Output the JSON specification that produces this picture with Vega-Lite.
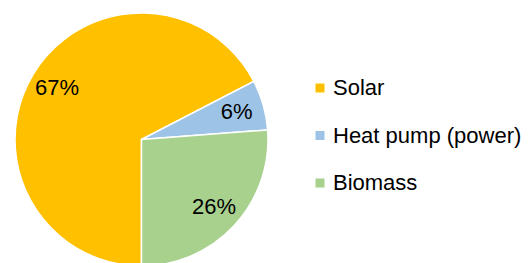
{
  "$schema": "https://vega.github.io/schema/vega-lite/v6.json",
  "width": 253,
  "height": 253,
  "padding": {"top": 10, "left": 12, "right": 0, "bottom": 0},
  "background": "white",
  "config": {"view": {"stroke": null}},
  "data": {
    "values": [
      {"source": "Solar", "share": 0.674, "k": 1},
      {"source": "Heat pump (power)", "share": 0.064, "k": 2},
      {"source": "Biomass", "share": 0.262, "k": 3}
    ]
  },
  "encoding": {
    "theta": {"field": "share", "type": "quantitative", "stack": true, "scale": {"range": [3.14159265, 9.42477796]}},
    "order": {"field": "k", "type": "quantitative", "sort": "ascending"}
  },
  "layer": [
    {
      "mark": {"type": "arc", "stroke": "white", "strokeWidth": 1.5},
      "encoding": {
        "color": {
          "field": "source",
          "type": "nominal",
          "scale": {"domain": ["Solar", "Heat pump (power)", "Biomass"], "range": ["#FFC000", "#9DC3E6", "#A9D18E"]},
          "legend": {
            "title": null,
            "orient": "none",
            "legendX": 294,
            "legendY": 64,
            "padding": 0,
            "symbolType": "square",
            "symbolSize": 81,
            "symbolStrokeWidth": 0,
            "symbolOpacity": 1,
            "labelFont": "Liberation Sans",
            "labelFontSize": 22,
            "labelColor": "#000000",
            "labelOffset": 2,
            "labelLimit": 300,
            "rowPadding": 25.5
          }
        }
      }
    },
    {
      "mark": {"type": "text", "radius": 99, "font": "Liberation Sans", "fontSize": 22, "color": "#000000", "baseline": "middle", "align": "center"},
      "encoding": {
        "text": {"field": "share", "type": "quantitative", "format": ".0%"}
      }
    }
  ]
}
